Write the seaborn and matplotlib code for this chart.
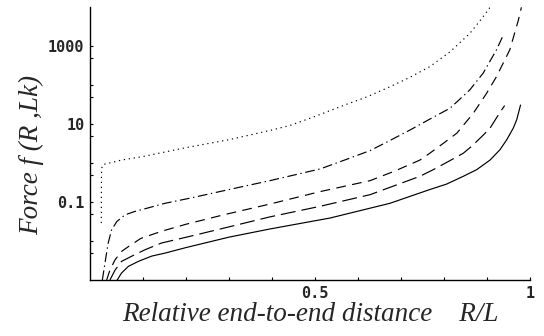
import numpy as np
import pandas as pd
import matplotlib
matplotlib.use("Agg")
import matplotlib.pyplot as plt
import seaborn as sns
from matplotlib.ticker import NullFormatter

# ---- data (x = R/L, y = force) ----
solid_x = [0.040, 0.050, 0.066, 0.089, 0.120, 0.151, 0.200, 0.300, 0.395, 0.535,
           0.674, 0.767, 0.806, 0.845, 0.876, 0.907, 0.930, 0.946, 0.961, 0.969, 0.978]
solid_y = [0.0010, 0.00151, 0.00224, 0.0030, 0.0041, 0.0049, 0.0068, 0.0126, 0.0204, 0.039,
           0.093, 0.21, 0.29, 0.46, 0.68, 1.2, 2.2, 4.0, 7.9, 12.9, 31.0]

longdash_x = [0.023, 0.035, 0.050, 0.074, 0.105, 0.143, 0.209, 0.302, 0.395, 0.512,
              0.628, 0.744, 0.775, 0.810, 0.845, 0.864, 0.891, 0.907, 0.930, 0.941]
longdash_y = [0.0010, 0.0018, 0.0030, 0.0041, 0.0060, 0.0089, 0.0132, 0.0234, 0.0417, 0.078,
              0.155, 0.46, 0.68, 1.1, 1.8, 2.7, 5.2, 7.9, 20.0, 30.0]

dash_x = [0.0155, 0.023, 0.035, 0.050, 0.066, 0.095, 0.143, 0.200, 0.287, 0.395,
          0.512, 0.628, 0.686, 0.744, 0.767, 0.798, 0.830, 0.868, 0.899, 0.922,
          0.953, 0.973, 0.980]
dash_y = [0.0010, 0.0018, 0.0033, 0.0054, 0.0072, 0.0117, 0.0178, 0.027, 0.047, 0.089,
          0.186, 0.355, 0.63, 1.2, 1.8, 3.2, 5.9, 19.0, 62.0, 166.0,
          810.0, 4700.0, 10000.0]

dashdot_x = [0.0054, 0.0116, 0.019, 0.027, 0.039, 0.058, 0.081, 0.112, 0.151, 0.209,
             0.300, 0.395, 0.512, 0.574, 0.628, 0.674, 0.721, 0.767, 0.814, 0.860,
             0.891, 0.922, 0.938]
dashdot_y = [0.0010, 0.00275, 0.0089, 0.0195, 0.0316, 0.047, 0.0575, 0.071, 0.093, 0.126,
             0.21, 0.355, 0.71, 1.26, 2.1, 3.8, 7.1, 13.5, 25.7, 76.0,
             204.0, 810.0, 1950.0]

dotted_x = [0.0030, 0.0032, 0.0036, 0.0060, 0.012, 0.050, 0.100, 0.200, 0.300, 0.400,
            0.442, 0.500, 0.558, 0.620, 0.674, 0.720, 0.767, 0.814, 0.860, 0.891, 0.907]
dotted_y = [0.029, 0.25, 0.71, 0.89, 0.95, 1.2, 1.48, 2.5, 4.0, 7.1,
            9.3, 15.8, 28.0, 50.0, 91.0, 158.0, 300.0, 720.0, 2140.0, 5750.0, 10000.0]

curve_names = ["solid", "longdash", "dash", "dashdot", "dotted"]

y_major = [0.1, 10, 1000]
y_major_labels = ["0.1", "10", "1000"]
y_minor = [0.005, 0.01, 0.05, 0.5, 1, 5, 50, 100, 500]
x_major = [0.5, 1]
x_major_labels = ["0.5", "1"]
x_minor = [0.1, 0.2, 0.3, 0.4, 0.6, 0.7, 0.8, 0.9]

xs = [solid_x, longdash_x, dash_x, dashdot_x, dotted_x]
ys = [solid_y, longdash_y, dash_y, dashdot_y, dotted_y]
df = pd.concat(
    [pd.DataFrame({"x": x, "y": y, "curve": n}) for n, x, y in zip(curve_names, xs, ys)],
    ignore_index=True,
)

sns.set_style("ticks")
plt.rcParams["lines.scale_dashes"] = False

fig = plt.figure(figsize=(5.44, 3.36), dpi=100)
ax = fig.add_axes([90 / 544, 1 - 280 / 336, 440 / 544, 273 / 336])

dash_map = {
    "solid": "",
    "longdash": (10.8, 4.3),
    "dash": (7.0, 4.6),
    "dashdot": (7.0, 2.6, 1.0, 2.6),
    "dotted": (0.9, 2.7),
}
sns.lineplot(data=df, x="x", y="y", style="curve", dashes=dash_map,
             style_order=curve_names, color="black", lw=0.85,
             estimator=None, sort=False, legend=False, ax=ax)

ax.set_yscale("log")
ax.set_xlim(-0.0233, 1.0)
ax.set_ylim(1e-3, 1.02e4)

ax.set_yticks(y_major, labels=y_major_labels)
ax.set_yticks(y_minor, minor=True)
ax.yaxis.set_minor_formatter(NullFormatter())
ax.set_xticks(x_major, labels=x_major_labels)
ax.set_xticks(x_minor, minor=True)

for s in ["top", "right"]:
    ax.spines[s].set_visible(False)
for s in ["left", "bottom"]:
    ax.spines[s].set_linewidth(1.0)
    ax.spines[s].set_color("black")

ax.tick_params(which="both", direction="in", length=2.4, width=0.8, color="black")
ax.tick_params(axis="y", which="major", pad=4)
ax.tick_params(axis="x", which="major", pad=4)
for lab in ax.get_xticklabels() + ax.get_yticklabels():
    lab.set_fontfamily("DejaVu Sans Mono")
    lab.set_fontsize(11)
    lab.set_fontweight("bold")

ax.set_xlabel("Relative end-to-end distance    R/L", fontfamily="Liberation Serif",
              fontstyle="italic", fontsize=19.5)
ax.set_ylabel("Force f (R ,Lk)", fontfamily="Liberation Serif",
              fontstyle="italic", fontsize=19.5)
ax.xaxis.set_label_coords(0.5, -0.082)
ax.yaxis.set_label_coords(-0.105, 0.458)

fig.savefig("out.png", dpi=100)
